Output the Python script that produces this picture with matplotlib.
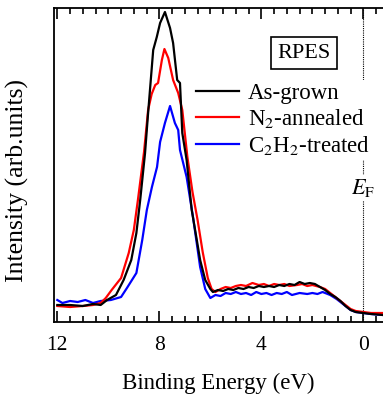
import matplotlib
matplotlib.use("Agg")
import matplotlib.pyplot as plt
from matplotlib.ticker import MultipleLocator

plt.rcParams['font.family'] = ['Liberation Serif', 'DejaVu Serif']
plt.rcParams['mathtext.fontset'] = 'stix'

# Binding energy (eV) and intensity (arb. units)
e_black = [12.0, 11.5, 11.0, 10.6, 10.3, 10.05, 9.7, 9.4, 9.1, 8.9, 8.75, 8.56, 8.44, 8.24, 8.1,
           7.97, 7.78, 7.58, 7.46, 7.3, 7.19, 7.1, 6.93, 6.73, 6.55, 6.4, 6.2, 6.0, 5.9, 5.7, 5.5,
           5.3, 5.1, 4.9, 4.7, 4.5, 4.3, 4.1, 3.9, 3.7, 3.5, 3.3, 3.1, 2.9, 2.7, 2.5, 2.3, 2.1,
           1.9, 1.7, 1.5, 1.3, 1.1, 0.9, 0.7, 0.5, 0.3, 0.0, -0.3, -0.77]
i_black = [17, 17, 16, 18, 17, 22, 27, 42, 62, 89, 122, 169, 209, 272, 285,
           299, 310, 294, 279, 242, 239, 189, 162, 112, 85, 62, 42, 33, 30, 32, 31,
           33, 32, 34, 33, 35, 34, 36, 35, 36, 35, 37, 36, 38, 37, 40, 38, 39,
           38, 35, 32, 28, 25, 21, 16, 12, 10, 9, 8, 7]

e_red = [12.0, 11.5, 11.0, 10.6, 10.3, 10.1, 9.87, 9.5, 9.2, 9.0, 8.84, 8.6, 8.44, 8.3, 8.16,
         8.05, 7.9, 7.8, 7.65, 7.46, 7.26, 7.1, 6.9, 6.7, 6.5, 6.3, 6.1, 5.95, 5.8, 5.6, 5.4,
         5.2, 5.0, 4.8, 4.6, 4.35, 4.1, 3.9, 3.7, 3.5, 3.3, 3.1, 2.9, 2.6, 2.4, 2.2, 2.0, 1.7,
         1.5, 1.3, 1.1, 0.9, 0.7, 0.5, 0.3, 0.0, -0.3, -0.77]
i_red = [16, 15, 16, 17, 19, 24, 32, 44, 69, 92, 122, 170, 212, 228, 237,
         239, 262, 273, 264, 242, 229, 212, 165, 130, 102, 70, 44, 33, 30, 33, 35,
         34, 36, 37, 36, 39, 37, 38, 36, 38, 37, 38, 36, 37, 38, 36, 37, 35,
         33, 29, 25, 21, 17, 13, 11, 10, 9, 9]

e_blue = [12.0, 11.8, 11.5, 11.2, 10.9, 10.6, 10.3, 9.9, 9.5, 9.27, 8.9, 8.67, 8.49, 8.29,
          8.09, 7.97, 7.78, 7.58, 7.39, 7.26, 7.19, 6.93, 6.68, 6.4, 6.2, 6.0, 5.8, 5.6, 5.4,
          5.2, 5.0, 4.8, 4.6, 4.4, 4.2, 4.0, 3.8, 3.6, 3.4, 3.2, 3.0, 2.8, 2.5, 2.2, 2.0, 1.8,
          1.6, 1.3, 1.05, 0.9, 0.7, 0.5, 0.3, 0.0, -0.3, -0.77]
i_blue = [22, 19, 21, 20, 22, 19, 21, 22, 25, 34, 49, 82, 112, 135,
          155, 180, 199, 216, 199, 192, 172, 145, 105, 55, 33, 24, 27, 26, 29,
          28, 30, 28, 29, 27, 30, 28, 29, 27, 29, 28, 30, 27, 29, 28, 29, 28,
          30, 27, 23, 20, 16, 12, 10, 9, 8, 7]

fig = plt.figure(figsize=(3.83, 3.98), dpi=100)
ax = fig.add_axes([54 / 383, 76 / 398, 329 / 383, 314 / 398])

l3, = ax.plot(e_blue, i_blue, color='#0000ff', lw=1.6)
l2, = ax.plot(e_red, i_red, color='#ff0000', lw=1.6)
l1, = ax.plot(e_black, i_black, color='black', lw=1.6)

# Fermi level
ax.axvline(0, color='black', lw=0.8, ls=(0, (1, 1)), zorder=0)

ax.set_xlim(12.13, -0.77)
ax.set_ylim(0, 314)
ax.xaxis.set_major_locator(MultipleLocator(4))
ax.xaxis.set_minor_locator(MultipleLocator(0.5))
ax.set_yticks([])
ax.tick_params(axis='x', which='both', direction='in', top=True, labelsize=15.5, pad=10, width=1.2)
ax.tick_params(axis='x', which='major', length=8)
ax.tick_params(axis='x', which='minor', length=4.5)
ax.spines['right'].set_visible(False)
for s in ['left', 'top', 'bottom']:
    ax.spines[s].set_linewidth(1.3)

ax.set_xlabel('Binding Energy (eV)', fontsize=16.5, labelpad=13)
ax.set_ylabel('Intensity (arb.units)', fontsize=18.5, labelpad=6)
ax.yaxis.set_label_coords(-0.075, 0.45)

leg = ax.legend([l1, l2, l3], ['As-grown', r'N$_2$-annealed', r'C$_2$H$_2$-treated'],
                loc='upper left', bbox_to_anchor=(0.425, 0.77),
                fontsize=16.5, frameon=True, handlelength=1.85, handletextpad=0.4,
                labelspacing=0.17, borderpad=0.1, borderaxespad=0)
leg.get_frame().set_edgecolor('none')
leg.get_frame().set_facecolor('white')
leg.get_frame().set_alpha(1)

ax.text(2.33, 269, 'RPES', fontsize=16, ha='center', va='center',
        bbox=dict(boxstyle='square,pad=0.3', fc='white', ec='black', lw=1.2))
ax.text(0.0, 134, r'$E_\mathrm{F}$', fontsize=16, ha='center', va='center',
        bbox=dict(boxstyle='square,pad=0.1', fc='white', ec='none'))

fig.savefig('out.png', dpi=100)
